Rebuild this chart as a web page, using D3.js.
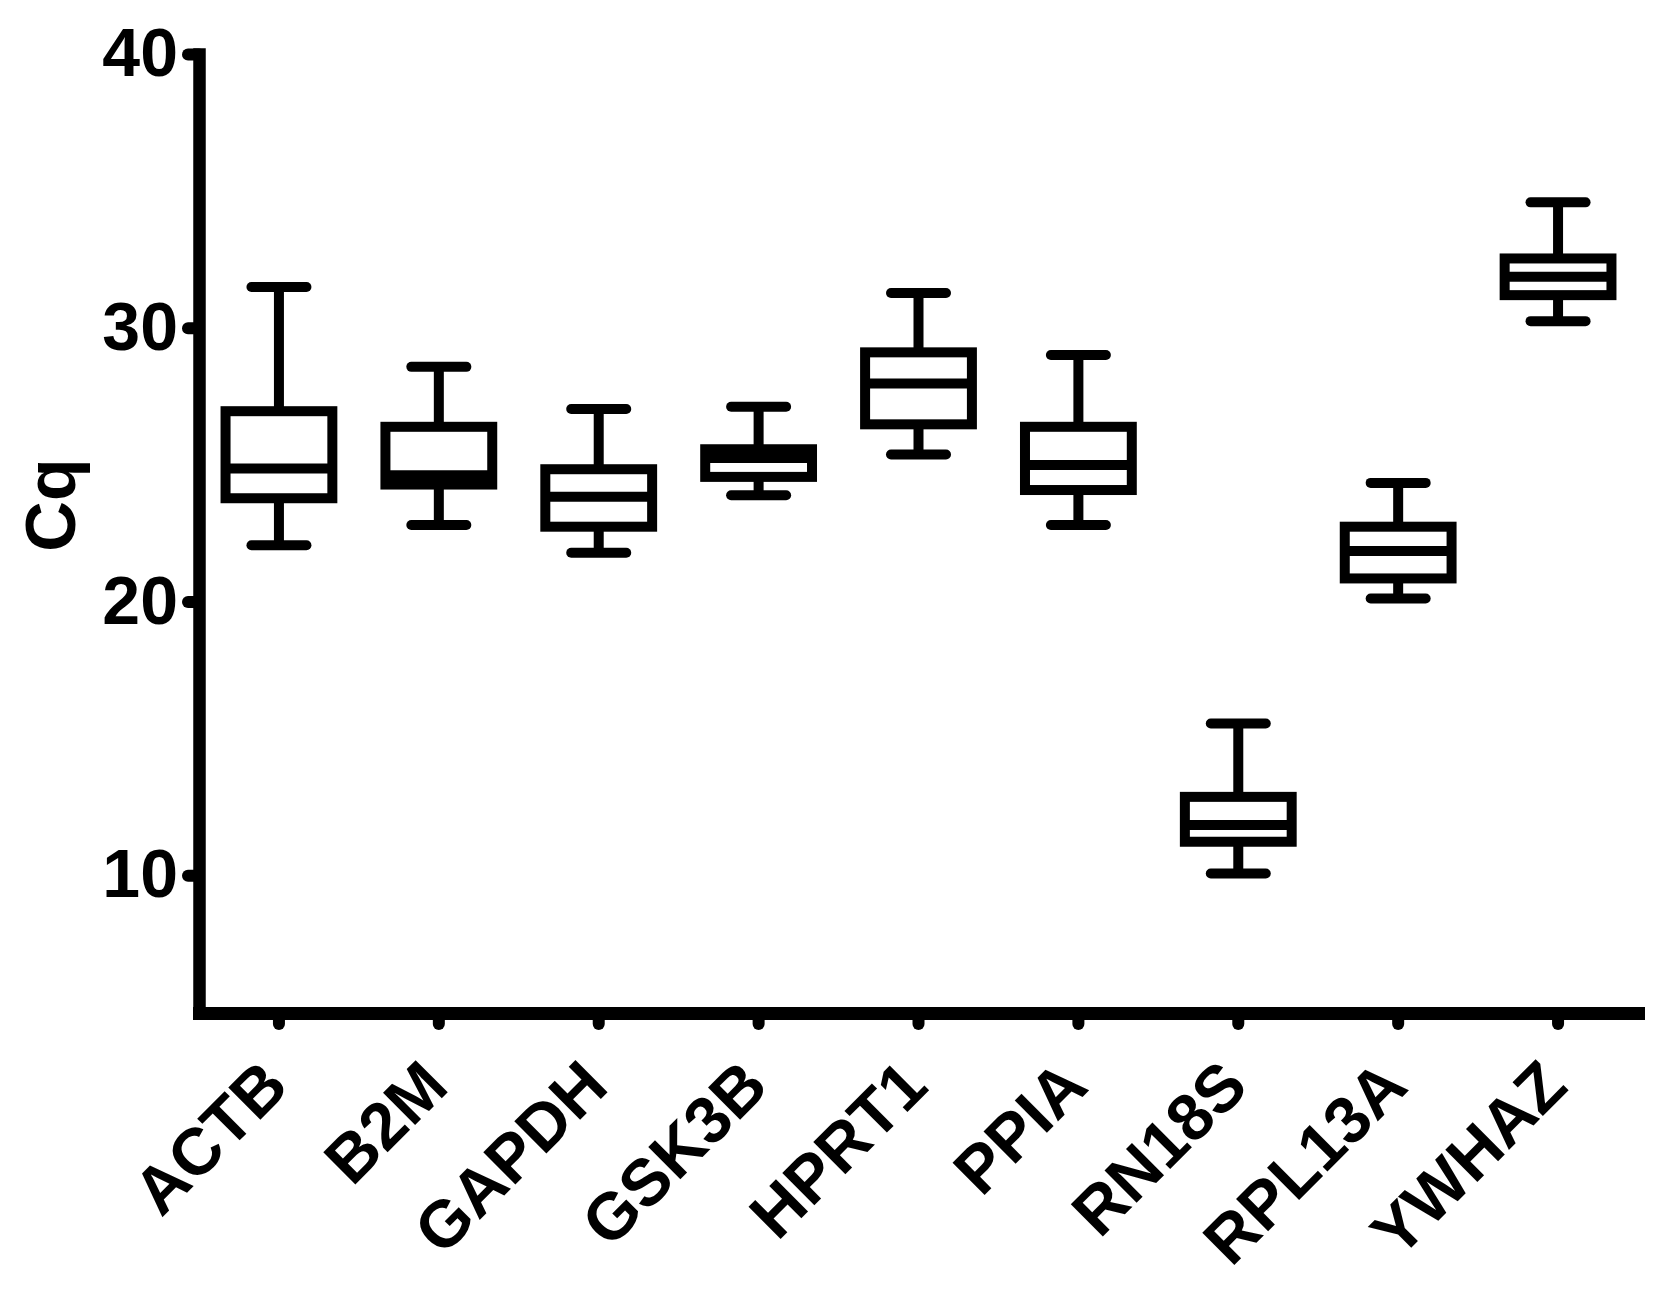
<!DOCTYPE html>
<html>
<head>
<meta charset="utf-8">
<script src="https://cdn.jsdelivr.net/npm/d3@7"></script>
<style>
body { margin: 0; background: #fff; }
svg { display: block; font-family: Arial, "Liberation Sans", sans-serif; font-weight: bold; }
</style>
</head>
<body>
<svg width="1668" height="1295"></svg>
<script>
// reference genes, Cq summary
var genes = ["ACTB", "B2M", "GAPDH", "GSK3B", "HPRT1", "PPIA", "RN18S", "RPL13A", "YWHAZ"];
var minVals    = [22.05, 22.79, 21.78, 23.88, 25.37, 22.79, 10.06, 20.11, 30.24];
var q1Vals     = [23.77, 24.27, 22.73, 24.55, 26.47, 24.07, 11.22, 20.84, 31.19];
var medianVals = [24.86, 24.61, 23.82, 25.24, 27.96, 24.98, 11.83, 21.84, 31.86];
var q3Vals     = [26.95, 26.38, 24.83, 25.56, 29.10, 26.38, 12.86, 22.73, 32.53];
var maxVals    = [31.49, 28.57, 27.03, 27.11, 31.27, 29.00, 15.54, 24.33, 34.58];
var yTicks = [10, 20, 30, 40];

var boxes = genes.map(function (g, i) {
	return { gene: g, min: minVals[i], q1: q1Vals[i], median: medianVals[i], q3: q3Vals[i], max: maxVals[i] };
});

var svg = d3.select("svg");

var x = d3.scaleBand().domain(genes).range([199, 1638]);
var y = d3.scaleLinear().domain([5, 40]).range([1012, 54]);

var boxHalf = x.bandwidth() * 0.334;
var capHalf = x.bandwidth() * 0.172;

var box = svg.selectAll(".box")
	.data(boxes)
	.enter()
	.append("g")
	.attr("class", "box")
	.attr("transform", function (d) { return "translate(" + (x(d.gene) + x.bandwidth() / 2) + ",0)"; })
	.attr("stroke", "#000")
	.attr("stroke-width", 10);

// whisker
box.append("line")
	.attr("x1", 0).attr("x2", 0)
	.attr("y1", function (d) { return y(d.min); })
	.attr("y2", function (d) { return y(d.max); });

// caps
["min", "max"].forEach(function (k) {
	box.append("line")
		.attr("stroke-linecap", "round")
		.attr("x1", -capHalf).attr("x2", capHalf)
		.attr("y1", function (d) { return y(d[k]); })
		.attr("y2", function (d) { return y(d[k]); });
});

box.append("rect")
	.attr("fill", "#fff")
	.attr("x", -boxHalf)
	.attr("width", boxHalf * 2)
	.attr("y", function (d) { return y(d.q3); })
	.attr("height", function (d) { return y(d.q1) - y(d.q3); });

box.append("line")
	.attr("x1", -boxHalf).attr("x2", boxHalf)
	.attr("y1", function (d) { return y(d.median); })
	.attr("y2", function (d) { return y(d.median); });

// axes
var yAxis = svg.append("g")
	.attr("transform", "translate(199,0)")
	.call(d3.axisLeft(y).tickValues(yTicks).tickSize(11).tickSizeOuter(0).tickPadding(10))
	.attr("font-family", null)
	.attr("font-size", null);
yAxis.select(".domain").attr("stroke", "#000").attr("stroke-width", 12.5).attr("stroke-linecap", "square");
yAxis.selectAll(".tick line").attr("stroke", "#000").attr("stroke-width", 12).attr("stroke-linecap", "round");
yAxis.selectAll(".tick text").attr("fill", "#000").attr("font-size", 68);

var xAxis = svg.append("g")
	.attr("transform", "translate(0,1013)")
	.call(d3.axisBottom(x).tickSize(11).tickSizeOuter(0))
	.attr("font-family", null)
	.attr("font-size", null);
xAxis.select(".domain").attr("stroke", "#000").attr("stroke-width", 13).attr("stroke-linecap", "square");
xAxis.selectAll(".tick line").attr("stroke", "#000").attr("stroke-width", 12).attr("stroke-linecap", "round");
xAxis.selectAll(".tick text")
	.attr("fill", "#000")
	.attr("font-size", 66)
	.attr("y", 0)
	.attr("dy", 0)
	.attr("text-anchor", "end")
	.attr("transform", "translate(12,76) rotate(-45)");

svg.append("text")
	.attr("transform", "translate(75,505) rotate(-90)")
	.attr("text-anchor", "middle")
	.attr("font-size", 70)
	.text("Cq");
</script>
</body>
</html>
